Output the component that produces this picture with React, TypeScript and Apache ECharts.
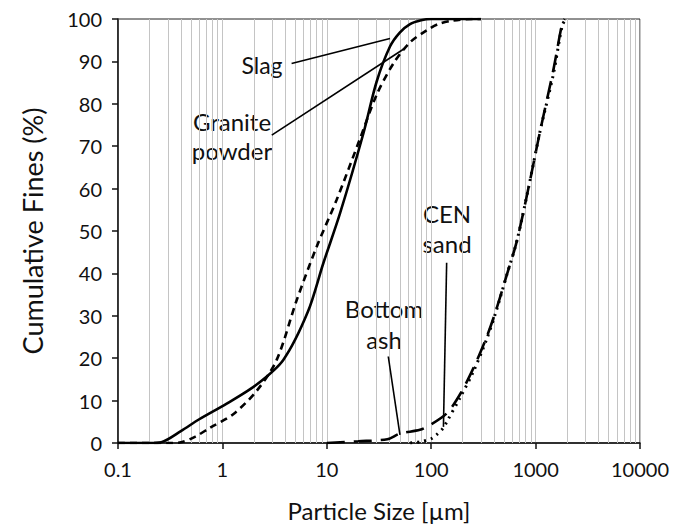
import React, { useEffect, useRef } from "react";
import * as echarts from "echarts";

// Particle size (µm) and cumulative fines (%)
const slagSize = [0.1, 0.2, 0.26, 0.4, 0.6, 1.1, 2.13, 3.83, 6.6, 9.26, 13.4, 22.4, 30, 40.3, 50, 62.7, 80, 100, 300];
const slagFines = [0, 0, 0.2, 2.8, 5.6, 9.3, 13.8, 19.6, 31, 42.4, 54.2, 73, 85.2, 93.5, 96.8, 98.8, 99.7, 100, 100];

const graniteSize = [0.1, 0.3, 0.39, 0.55, 0.76, 1.27, 2.13, 3.31, 5.15, 8, 12.4, 20.9, 30, 43.4, 62.7, 90.4, 117, 160, 250, 300];
const graniteFines = [0, 0, 0.1, 1.5, 3.6, 6.8, 12.3, 19.6, 33.7, 46.3, 57.3, 71.9, 82.1, 89.5, 94.5, 97.3, 98.8, 99.6, 100, 100];

const ashSize = [10, 20, 38, 50, 78, 97, 141, 189, 253, 340, 424, 529, 659, 852, 1101, 1480, 1800, 1900];
const ashFines = [0, 0.4, 0.9, 2.2, 3.1, 4.2, 7, 11.5, 17.6, 25, 31.8, 39.6, 47.5, 60, 73.4, 88, 99, 100];

const sandSize = [63, 80, 100, 113, 130, 141, 189, 253, 340, 424, 529, 659, 852, 1101, 1480, 1800, 1950];
const sandFines = [0, 0.3, 1, 2, 3.5, 5, 10.7, 16.8, 24.5, 31.5, 39.6, 47.5, 60, 73.4, 87, 98.5, 100];

const xTickValues = [0.1, 1, 10, 100, 1000, 10000];
const minorMultipliers = [2, 3, 4, 5, 6, 7, 8, 9];
const decades = [0.1, 1, 10, 100, 1000];

// Leader lines: [from (size, fines), to (size, fines)]
const leaderSlag = [[4.6, 89.5], [40.3, 95.4]];
const leaderGranite = [[2.97, 72.6], [56, 93.1]];
const leaderAsh = [[38.8, 20.4], [50.2, 1.9]];
const leaderSand = [[140.6, 42.5], [131, 3.8]];

const FONT = "Lato, 'Open Sans', sans-serif";

function zip(xs: number[], ys: number[]) {
  return xs.map((x, i) => [x, ys[i]]);
}

export default function App() {
  const ref = useRef<HTMLDivElement>(null);
  useEffect(() => {
    if (!ref.current) return;
    const chart = echarts.init(ref.current, undefined, { renderer: "svg" });
    const minorLines: any[] = [];
    decades.forEach((d) => {
      minorMultipliers.forEach((m) => minorLines.push({ xAxis: +(d * m).toPrecision(6) }));
    });
    const curveBase = {
      type: "line",
      showSymbol: false,
      symbol: "none",
      smooth: 0.3,
      z: 5,
      silent: true,
    };
    const option: any = {
      animation: false,
      backgroundColor: "#fff",
      textStyle: { fontFamily: FONT },
      grid: {
        left: 118,
        right: 37,
        top: 19,
        bottom: 84,
        containLabel: false,
        outerBoundsMode: "none",
        show: true,
        borderColor: "#222",
        borderWidth: 1,
        backgroundColor: "transparent",
      },
      xAxis: {
        type: "log",
        logBase: 10,
        min: xTickValues[0],
        max: xTickValues[xTickValues.length - 1],
        name: "Particle Size [µm]",
        nameLocation: "middle",
        nameGap: 53,
        nameTextStyle: { fontSize: 24, lineHeight: 28, color: "#111", fontFamily: FONT },
        axisLine: { show: true, onZero: false, lineStyle: { color: "#111", width: 1.5 } },
        axisTick: { show: true, length: 6, lineStyle: { color: "#111", width: 1.5 } },
        axisLabel: {
          fontSize: 20,
          color: "#111",
          margin: 16,
          fontFamily: FONT,
          formatter: (v: number) => String(+(+v).toPrecision(6)),
        },
        splitLine: { show: true, lineStyle: { color: "#c4c4c4", width: 1 } },
      },
      yAxis: {
        type: "value",
        min: 0,
        max: 100,
        interval: 10,
        name: "Cumulative Fines (%)",
        nameLocation: "middle",
        nameGap: 72,
        nameTextStyle: { fontSize: 27, color: "#111", fontFamily: FONT },
        axisLine: { show: true, lineStyle: { color: "#111", width: 1.5 } },
        axisTick: { show: true, length: 6, lineStyle: { color: "#111", width: 1.5 } },
        axisLabel: { fontSize: 20, color: "#111", margin: 16, fontFamily: FONT },
        splitLine: { show: false },
      },
      series: [
        {
          name: "grid",
          type: "line",
          data: [],
          z: 1,
          silent: true,
          markLine: {
            silent: true,
            symbol: ["none", "none"],
            label: { show: false },
            lineStyle: { color: "#c4c4c4", width: 1, type: "solid" },
            animation: false,
            data: minorLines,
          },
        },
        {
          ...curveBase,
          name: "Slag",
          data: zip(slagSize, slagFines),
          lineStyle: { color: "#000", width: 2.6, type: "solid" },
        },
        {
          ...curveBase,
          name: "Granite powder",
          data: zip(graniteSize, graniteFines),
          lineStyle: { color: "#000", width: 2.6, type: [7, 5] },
        },
        {
          ...curveBase,
          name: "Bottom ash",
          data: zip(ashSize, ashFines),
          lineStyle: { color: "#000", width: 2.6, type: [18, 9] },
        },
        {
          ...curveBase,
          name: "CEN sand",
          data: zip(sandSize, sandFines),
          lineStyle: { color: "#000", width: 3, type: [2, 5] },
        },
        {
          name: "leaders",
          type: "line",
          data: [],
          z: 6,
          silent: true,
          markLine: {
            silent: true,
            symbol: ["none", "none"],
            label: { show: false },
            lineStyle: { color: "#000", width: 1.6, type: "solid" },
            animation: false,
            data: [leaderSlag, leaderGranite, leaderAsh, leaderSand].map((l) => [
              { coord: l[0] },
              { coord: l[1] },
            ]),
          },
        },
      ],
      graphic: [
        { type: "text", x: 262, y: 65, style: { text: "Slag", font: `23px ${FONT}`, fill: "#111", align: "center", verticalAlign: "middle" } },
        { type: "text", x: 232, y: 136, style: { text: "Granite\npowder", font: `24px ${FONT}`, lineHeight: 29, fill: "#111", align: "center", verticalAlign: "middle" } },
        { type: "text", x: 384, y: 324, style: { text: "Bottom\nash", font: `24px ${FONT}`, lineHeight: 31, fill: "#111", align: "center", verticalAlign: "middle" } },
        { type: "text", x: 447, y: 228, style: { text: "CEN\nsand", font: `24px ${FONT}`, lineHeight: 30, fill: "#111", align: "center", verticalAlign: "middle" } },
      ],
    };
    chart.setOption(option);
    return () => chart.dispose();
  }, []);
  return (
    <div
      ref={ref}
      style={{ position: "absolute", left: 0, top: 0, width: 677, height: 527 }}
    />
  );
}
